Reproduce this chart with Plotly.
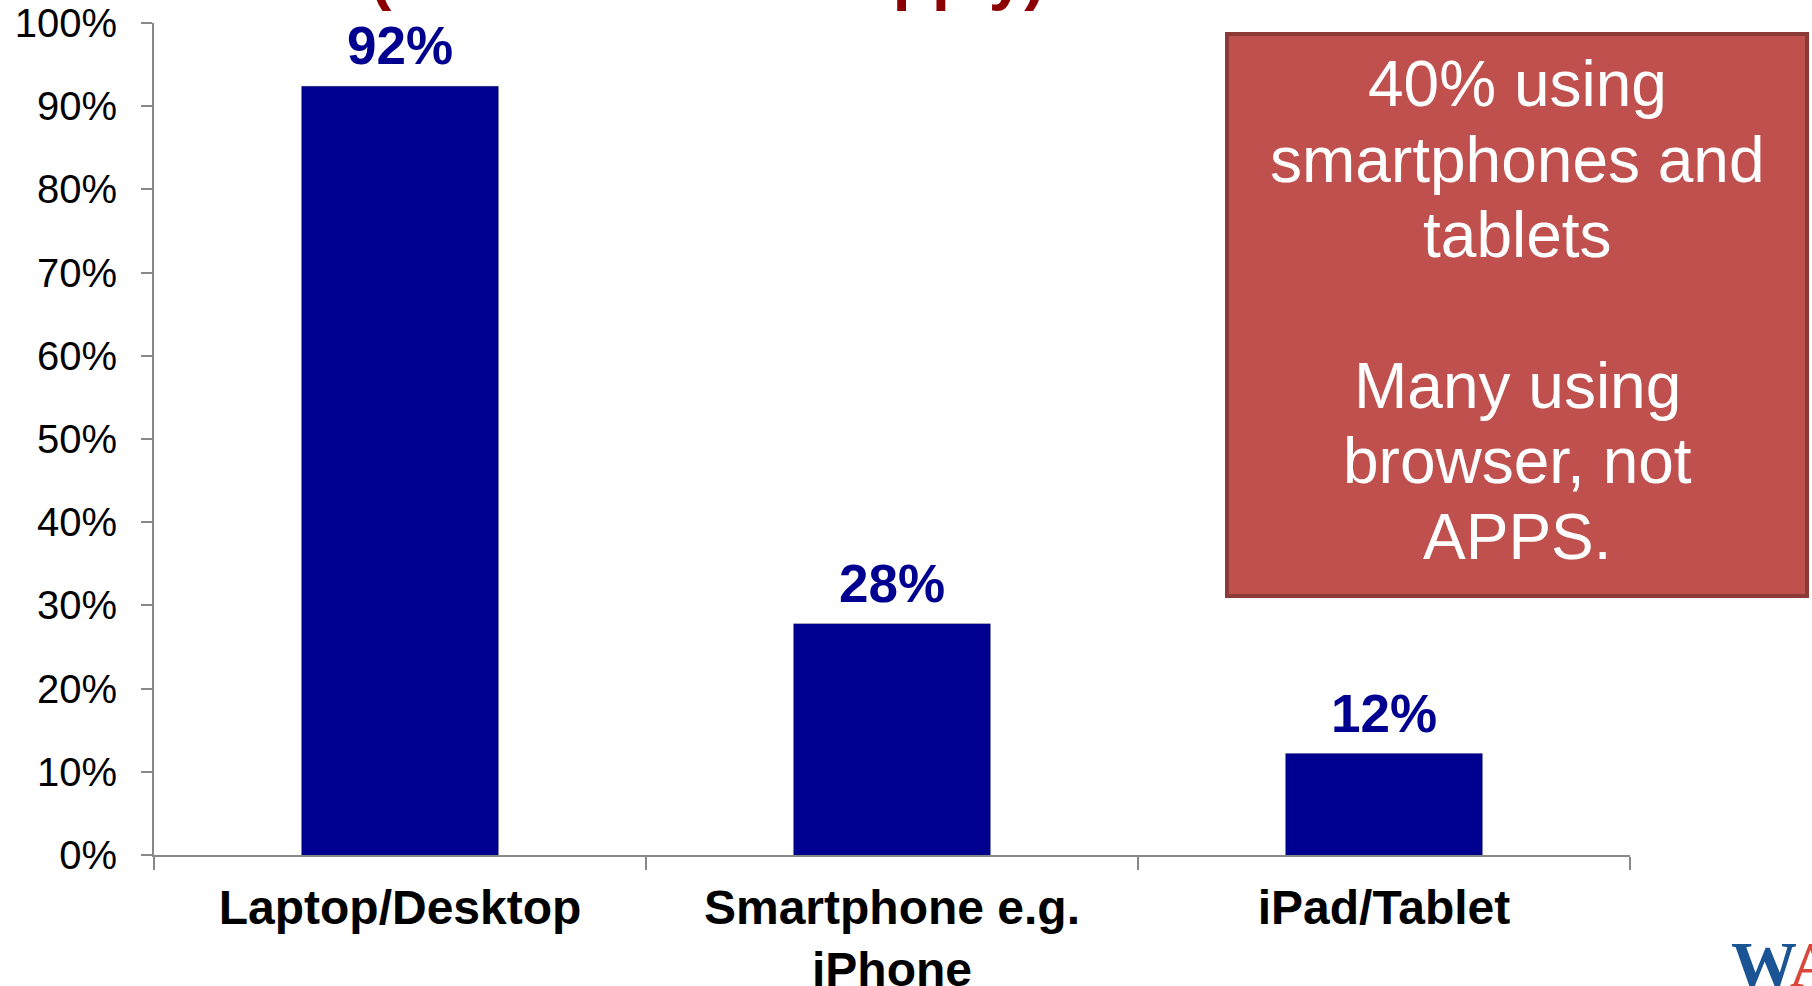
import plotly.graph_objects as go

# ---------------- data ----------------
categories = ["Laptop/Desktop", "Smartphone e.g.<br>iPhone", "iPad/Tablet"]
shares = [0.924, 0.278, 0.122]
share_labels = [f"{v:.0%}" for v in shares]
y_ticks = [i / 10 for i in range(11)]
y_tick_labels = [f"{i * 10}%" for i in range(11)]
box_lines = ["40% using", "smartphones and", "tablets", "", "Many using", "browser, not", "APPS."]
title_fragment = "(choose all that apply)"

# ---------------- layout geometry ----------------
W, H = 1812, 986
L, R, T, B = 154, 182, 23, 131
PW, PH = W - L - R, H - T - B
FONT = "Liberation Sans, Arial, sans-serif"
BAR_BLUE = "#000090"
AXIS_GREY = "#888888"


def px_x(X):
    return (X - L) / PW


def px_y(Y):
    return (H - B - Y) / PH


fig = go.Figure()
fig.add_trace(go.Bar(
    x=categories, y=shares, width=0.4,
    marker=dict(color=BAR_BLUE, line=dict(width=1, color="rgba(0,0,0,0.18)")),
    hoverinfo="skip", showlegend=False,
))

annotations = []
# value labels above bars
for c, v, t in zip(categories, shares, share_labels):
    annotations.append(dict(
        x=c, y=v, xref="x", yref="y", text=f"<b>{t}</b>", showarrow=False,
        xanchor="center", yanchor="bottom", yshift=9,
        font=dict(family=FONT, size=53, color=BAR_BLUE),
    ))

# red call-out box
box_x0, box_x1, box_y0, box_y1 = 1227, 1807, 34, 596
shapes = [dict(
    type="rect", xref="paper", yref="paper",
    x0=px_x(box_x0), x1=px_x(box_x1), y0=px_y(box_y1), y1=px_y(box_y0),
    fillcolor="#C0504D", line=dict(color="#8C3A38", width=4), layer="above",
)]
first_baseline, line_step = 106, 75.5
for i, line in enumerate(box_lines):
    if not line:
        continue
    base = first_baseline + i * line_step
    annotations.append(dict(
        x=px_x((box_x0 + box_x1) / 2), y=px_y(base - 22), xref="paper", yref="paper",
        text=line, showarrow=False, xanchor="center", yanchor="middle",
        font=dict(family=FONT, size=64, color="white"),
    ))

# title cut off at the top of the slide
annotations.append(dict(
    x=px_x(368), y=px_y(14.5), xref="paper", yref="paper",
    text=f"<b>{title_fragment}</b>", showarrow=False,
    xanchor="left", yanchor="bottom",
    font=dict(family=FONT, size=64, color="#8B0000"),
))

# logo fragment bottom-right
annotations.append(dict(
    x=px_x(1729), y=px_y(926), xref="paper", yref="paper",
    text="<b><span style='color:#1B5494'>W</span><span style='color:#D9473B'>A</span></b>",
    showarrow=False, xanchor="left", yanchor="top",
    font=dict(family="Liberation Serif, Times New Roman, serif", size=66),
))

fig.update_layout(
    width=W, height=H,
    margin=dict(l=L, r=R, t=T, b=B, pad=0, autoexpand=False),
    paper_bgcolor="white", plot_bgcolor="white",
    bargap=0.6,
    shapes=shapes,
    annotations=annotations,
    xaxis=dict(
        automargin=False,
        showline=True, linecolor=AXIS_GREY, linewidth=2,
        ticks="outside", tickson="boundaries", ticklen=13, tickwidth=2, tickcolor=AXIS_GREY,
        tickfont=dict(family=FONT, size=48, color="black"),
        ticklabelstandoff=9,
        showgrid=False, zeroline=False, fixedrange=True,
        tickprefix="<b>", ticksuffix="</b>",
    ),
    yaxis=dict(
        automargin=False,
        range=[0, 1], tickvals=y_ticks, ticktext=y_tick_labels,
        showline=True, linecolor=AXIS_GREY, linewidth=2,
        ticks="outside", ticklen=11, tickwidth=2, tickcolor=AXIS_GREY,
        tickfont=dict(family=FONT, size=40, color="black"),
        ticklabelstandoff=16,
        showgrid=False, zeroline=False, fixedrange=True,
    ),
)

fig.write_html(
    "out.html",
    config={"displayModeBar": False},
    post_script="document.body.style.margin='0';document.body.style.overflow='hidden';",
)
